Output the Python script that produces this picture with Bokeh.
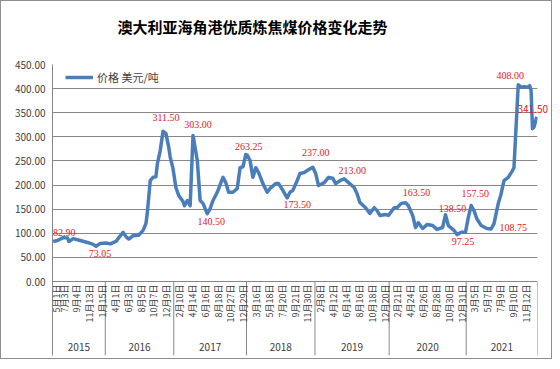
import math
from bokeh.plotting import figure
from bokeh.models import (Range1d, FixedTicker, LinearAxis, NumeralTickFormatter, Title,
                          Legend, LegendItem, ColumnDataSource, InlineStyleSheet, LabelSet)
from bokeh.core.properties import value
from bokeh.embed import file_html
from bokeh.resources import INLINE

title_text = "澳大利亚海角港优质炼焦煤价格变化走势"
series_name = "价格 美元/吨"

years = ["2015", "2016", "2017", "2018", "2019", "2020", "2021"]
year_counts = [37, 48, 51, 48, 52, 54, 50]
label_step = 9
date_labels = [
    "5月1日", "7月3日", "9月4日", "11月13日", "1月15日",
    "4月1日", "6月3日", "8月5日", "10月7日", "12月9日",
    "2月10日", "4月14日", "6月16日", "8月18日", "10月27日", "12月29日",
    "3月16日", "5月18日", "7月20日", "9月21日", "11月30日",
    "2月8日", "4月12日", "6月14日", "8月16日", "10月18日", "12月20日",
    "2月21日", "4月24日", "6月26日", "8月28日", "10月30日", "12月31日",
    "3月5日", "5月7日", "7月9日", "9月10日", "11月12日",
]

week_idx = [0, 3, 7, 10, 11, 14, 19, 24, 28, 30, 33, 37, 40, 44, 46, 49, 51, 53, 56, 60,
            63, 65, 66, 68, 70, 72, 73, 75, 77, 79, 81, 82, 84, 86, 88, 91, 92, 94, 96, 98,
            101, 103, 105, 108, 110, 112, 115, 119, 121, 123, 126, 129, 131, 133, 135, 136, 138, 140, 142, 144,
            147, 150, 152, 156, 158, 161, 164, 166, 168, 171, 173, 176, 178, 182, 184, 186, 190, 193, 196, 198,
            201, 204, 207, 211, 213, 215, 219, 222, 225, 227, 229, 233, 235, 239, 241, 244, 247, 249, 252, 254,
            256, 259, 262, 266, 269, 273, 275, 277, 281, 283, 286, 289, 291, 293, 295, 297, 300, 304, 307, 309,
            312, 314, 316, 319, 322, 323, 326, 328, 330, 333, 334, 335, 336, 337, 339]
price = [82.9, 85, 91, 90, 83, 89, 85, 81, 77, 73.05, 79, 80, 78, 83, 91, 102, 93, 88, 95, 96,
         106, 120, 143, 209, 216, 217, 244, 271, 311.5, 307, 278, 258, 234, 195, 178, 166, 157, 168, 157, 303,
         251, 168, 162, 140.5, 151, 168, 185, 216, 205, 185, 185, 193, 236, 238, 263.25, 262, 251, 216, 236, 226,
         203, 185, 193, 203, 203, 189, 173.5, 185, 189, 209, 224, 226, 230, 237, 224, 199, 205, 216, 214, 203,
         209, 213, 205, 195, 182, 164, 153, 141, 153, 147, 137, 139, 137, 153, 153, 162, 163.5, 157, 137, 112,
         122, 110, 118, 116, 108, 112, 138.5, 116, 106, 97.25, 102, 102, 133, 157.5, 147, 130, 116, 110, 108.75, 120,
         162, 182, 209, 216, 230, 236, 408, 403, 404, 403, 406, 396, 317, 320, 341.5]

label_idx = [0, 30, 77, 98, 108, 135, 164, 182, 204, 247, 275, 283, 293, 307, 326]
label_text = ["82.90", "73.05", "311.50", "303.00", "140.50", "263.25", "173.50", "237.00",
              "213.00", "163.50", "138.50", "97.25", "157.50", "108.75", "408.00"]
label_value = [float(t) for t in label_text]
last_text = "341.50"
last_value = 341.5

# presentation: pixel offsets of each value label from its point (screen: +dx right, +dy down)
label_dx = [11, 4, 3, 5, 4, 3, 10, 3, 8, 11, 7, 6, 4, 22, -8]
label_dy = [-9, 7, -14, -11, 8, -8, 7, -15, -8, -10, -6, 7, -12, -2, -9]

N = sum(year_counts)
grid_col = "#878787"
txt_col = "#404040"
red = "#E3201B"
cjk = "Noto Sans CJK SC"

# layout (pixels)
plot_h_px = 217          # height of the 0..450 value band
axis_band_px = 74        # category-label band below the 0 line
px_per_unit = plot_h_px / 450
y_bottom = -axis_band_px / px_per_unit

p = figure(width=552, height=359, output_backend="svg", toolbar_location=None, title=None,
           x_range=Range1d(-0.5, N - 0.5), y_range=Range1d(y_bottom, 450),
           min_border_left=51, min_border_right=16, min_border_top=63, min_border_bottom=5)
p.stylesheets = [InlineStyleSheet(css=":host { border: 1px solid #8e8e8e; }")]
p.outline_line_color = None
p.background_fill_color = "white"
p.border_fill_color = "white"

# spacer (nearest the frame) and the real title above it
p.add_layout(Title(text=" ", text_font_size="10px"), "above")
p.add_layout(Title(text=title_text, text_font=cjk, text_font_size="15px", text_font_style="bold",
                   text_color="#000000", align="left", offset=65), "above")

# y axis
yax = p.yaxis[0]
yax.ticker = FixedTicker(ticks=list(range(0, 451, 50)))
yax.formatter = NumeralTickFormatter(format="0.00")
yax.major_tick_out = 0
yax.major_tick_in = 0
yax.minor_tick_line_color = None
yax.axis_line_color = grid_col
yax.major_label_text_font = cjk
yax.major_label_text_font_size = "10px"
yax.major_label_text_color = txt_col
yax.major_label_standoff = 7

p.xgrid.visible = False
p.xaxis.visible = False
p.ygrid.grid_line_color = grid_col

# category band: separators, date labels, year labels
starts = [0]
for c in year_counts:
    starts.append(starts[-1] + c)
bounds = [s - 0.5 for s in starts]
p.segment(x0=bounds, y0=[0] * len(bounds), x1=bounds, y1=[y_bottom] * len(bounds),
          line_color=grid_col, line_width=1)

tick_pos = [k * label_step for k in range(len(date_labels))]
date_dx = [3] + [-2] * (len(tick_pos) - 1)
p.text(x=tick_pos, y=[0] * len(tick_pos), text=date_labels, angle=math.pi / 2,
       x_offset=date_dx, y_offset=3,
       text_font=value(cjk), text_font_size="9px", text_color=txt_col,
       text_align="right", text_baseline="middle")

centers = [(starts[i] + starts[i + 1] - 1) / 2 for i in range(len(years))]
p.text(x=centers, y=[0] * len(centers), text=years, y_offset=65,
       text_font=value(cjk), text_font_size="10px", text_color=txt_col,
       text_align="center", text_baseline="middle")

r = p.line(week_idx, price, line_color="#4A7EBB", line_width=3.5, line_join="round")

src = ColumnDataSource(dict(x=label_idx, y=label_value, t=label_text,
                            dx=label_dx, dy=[-d for d in label_dy]))
labels = LabelSet(x="x", y="y", text="t", x_offset="dx", y_offset="dy", source=src,
                  text_font=cjk, text_font_size="10px", text_color=red,
                  text_align="center", text_baseline="middle")
p.add_layout(labels)

# last value label sits past the frame edge: drawn by an unclipped right-side axis label
last_pos = last_value + 8 / px_per_unit
last_ax = LinearAxis(ticker=FixedTicker(ticks=[last_pos]),
                     major_label_overrides={last_pos: last_text},
                     axis_line_color=None, major_tick_line_color=None, minor_tick_line_color=None,
                     major_tick_out=0, major_tick_in=0,
                     major_label_text_font=cjk, major_label_text_font_size="10px",
                     major_label_text_color=red, major_label_standoff=-20)
p.add_layout(last_ax, "right")

legend = Legend(items=[LegendItem(label=series_name, renderers=[r])],
                location=(13, 196 + axis_band_px),
                glyph_width=28, glyph_height=14, padding=5, spacing=0, margin=0,
                label_text_font=cjk, label_text_font_size="11px", label_text_color=txt_col,
                label_standoff=4, border_line_color=None, background_fill_alpha=0)
p.add_layout(legend)

open("out.html", "w").write(file_html(p, INLINE))
